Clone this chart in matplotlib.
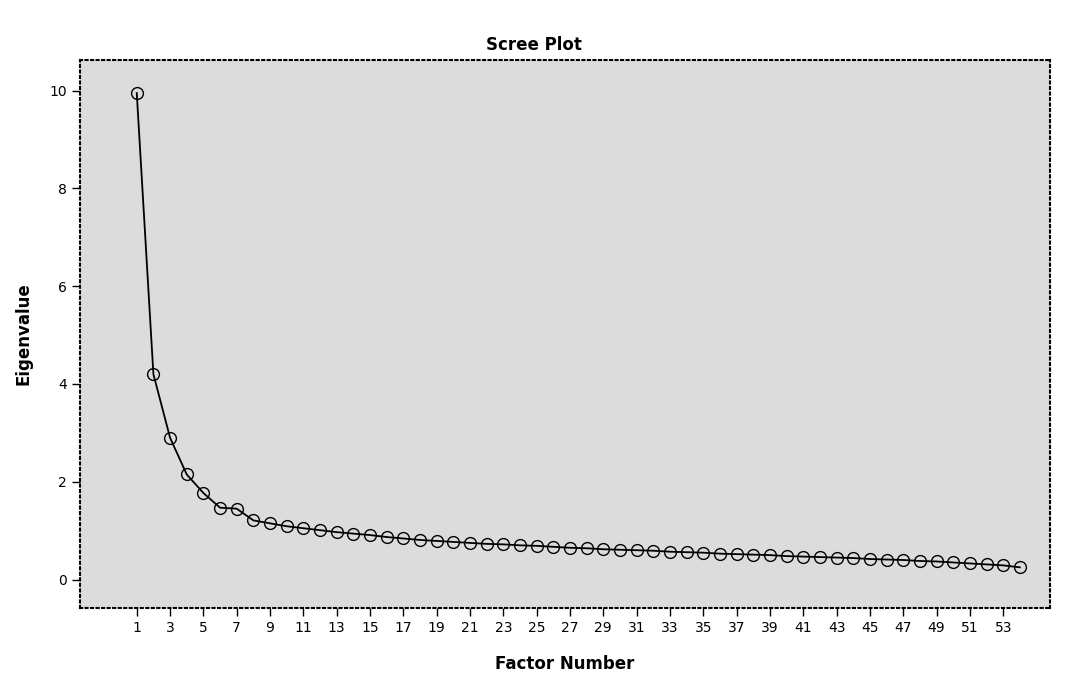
import matplotlib
matplotlib.use('Agg')
import numpy as np
from matplotlib import pyplot as plt

# nilai eigen per faktor
factors = list(range(1, 55))
eigenvalues = [9.95, 4.20, 2.90, 2.15, 1.77, 1.47, 1.45, 1.21, 1.15, 1.09,
               1.05, 1.01, 0.97, 0.94, 0.91, 0.87, 0.84, 0.81, 0.79, 0.77,
               0.75, 0.73, 0.72, 0.70, 0.69, 0.67, 0.65, 0.64, 0.62, 0.61,
               0.60, 0.59, 0.57, 0.56, 0.55, 0.53, 0.52, 0.51, 0.50, 0.48,
               0.47, 0.46, 0.45, 0.44, 0.42, 0.41, 0.40, 0.38, 0.37, 0.35,
               0.33, 0.31, 0.29, 0.25]
xticks = list(range(1, 54, 2))
yticks = [0, 2, 4, 6, 8, 10]

fig = plt.figure(figsize=(10.68, 6.8), dpi=100)
ax = fig.add_axes([0.075, 0.106, 0.908, 0.806])
ax.set_facecolor('#dcdcdc')

ax.plot(factors, eigenvalues, color='black', linewidth=1.3,
        marker='o', markersize=8.5, markerfacecolor='none',
        markeredgecolor='black', markeredgewidth=1.0)

ax.set_xlim(-2.4, 55.8)
ax.set_ylim(-0.58, 10.63)
ax.set_xticks(xticks)
ax.set_yticks(yticks)
ax.tick_params(direction='out', length=6, width=1, labelsize=10, colors='black')

for s in ax.spines.values():
    s.set_linestyle(':')
    s.set_linewidth(1.5)
    s.set_color('black')

# judul di tengah gambar, bukan di tengah sumbu
fig.text(0.5, 1 - 45 / 680, 'Scree Plot', fontsize=12, fontweight='bold',
         ha='center', va='center')
ax.set_xlabel('Factor Number', fontsize=12, fontweight='bold', labelpad=14)
ax.set_ylabel('Eigenvalue', fontsize=12, fontweight='bold', labelpad=12)

fig.savefig('out.png', dpi=100)
